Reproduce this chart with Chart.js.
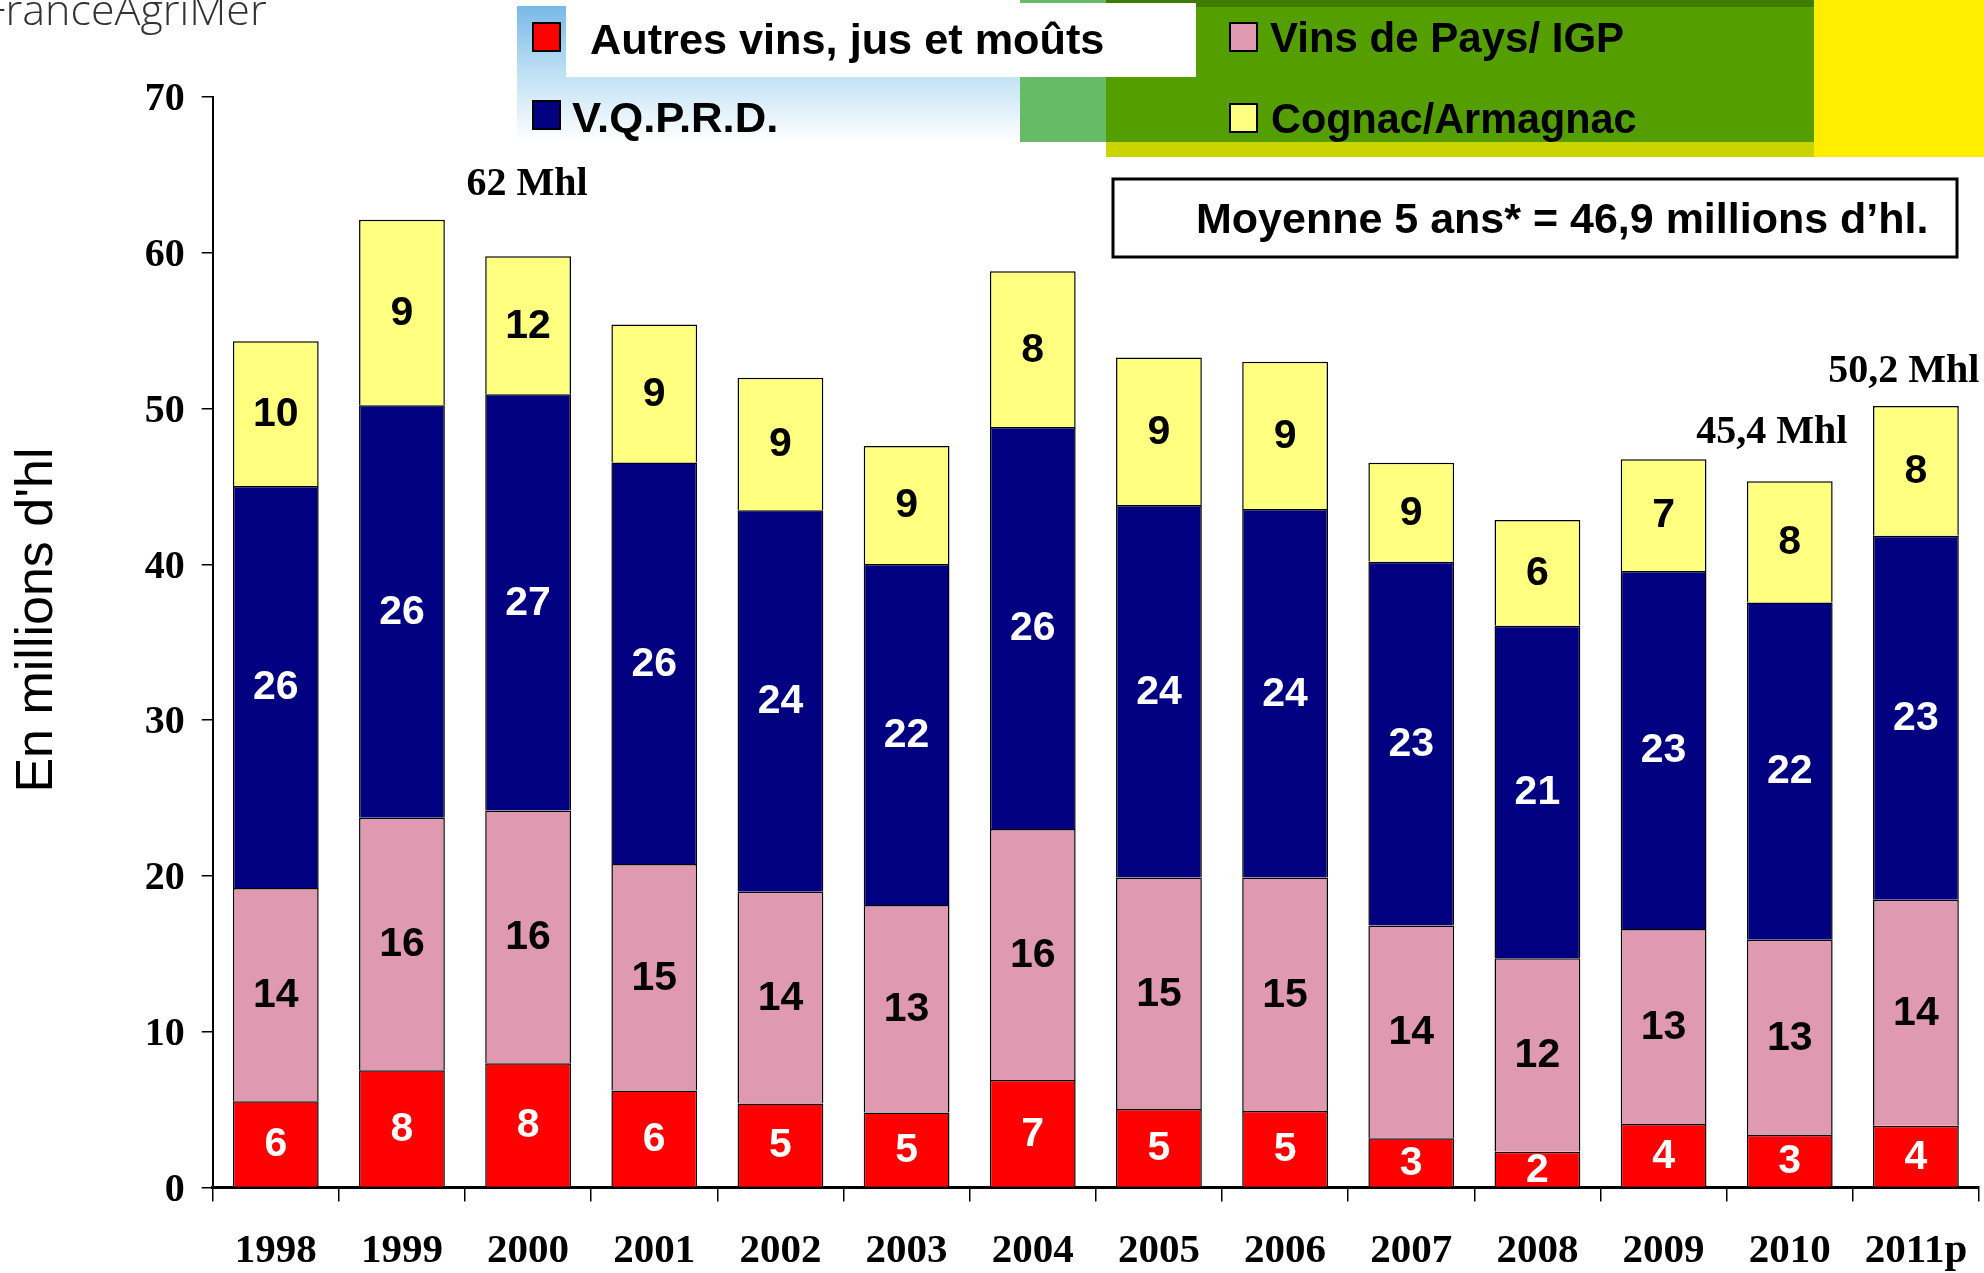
<!DOCTYPE html>
<html>
<head>
<meta charset="utf-8">
<script src="https://cdn.jsdelivr.net/npm/chart.js@4/dist/chart.umd.min.js"></script>
<style>
  html, body { margin: 0; padding: 0; background: #ffffff; }
  #wrap { position: relative; width: 1984px; height: 1273px; overflow: hidden; }
  canvas { display: block; }
</style>
</head>
<body>
<div id="wrap"><canvas id="c" width="1984" height="1273"></canvas></div>
<script>
// ---- Data (millions d'hl) ----
const years = ['1998','1999','2000','2001','2002','2003','2004','2005','2006','2007','2008','2009','2010','2011p'];
const autres   = [5.53, 7.52, 7.98, 6.22, 5.39, 4.82, 6.90, 5.04, 4.91, 3.16, 2.30, 4.08, 3.37, 3.97];
const vinsPays = [13.69, 16.22, 16.22, 14.54, 13.60, 13.32, 16.11, 14.86, 14.99, 13.66, 12.42, 12.52, 12.53, 14.50];
const vqprd    = [25.81, 26.47, 26.72, 25.78, 24.48, 21.89, 25.80, 23.91, 23.66, 23.34, 21.34, 22.97, 21.65, 23.37];
const cognac   = [9.29, 11.91, 8.86, 8.85, 8.51, 7.57, 10.00, 9.47, 9.45, 6.36, 6.79, 7.18, 7.78, 8.33];

// Value labels printed inside the segments
const autresLbl   = [6, 8, 8, 6, 5, 5, 7, 5, 5, 3, 2, 4, 3, 4];
const vinsPaysLbl = [14, 16, 16, 15, 14, 13, 16, 15, 15, 14, 12, 13, 13, 14];
const vqprdLbl    = [26, 26, 27, 26, 24, 22, 26, 24, 24, 23, 21, 23, 22, 23];
const cognacLbl   = [10, 9, 12, 9, 9, 9, 8, 9, 9, 9, 6, 7, 8, 8];

const seriesNames = ['Autres vins, jus et moûts', 'Vins de Pays/ IGP', 'V.Q.P.R.D.', 'Cognac/Armagnac'];
const yTicks = [0, 10, 20, 30, 40, 50, 60, 70];
const yTitle = "En millions d'hl";
const moyenneText = 'Moyenne 5 ans* = 46,9 millions d\u2019hl.';
const annotations = [
  { text: '62 Mhl',   cat: 2,  value: 64.4, dx: -1 },
  { text: '45,4 Mhl', cat: 12, value: 48.45, dx: -18 },
  { text: '50,2 Mhl', cat: 13, value: 52.4, dx: -12 }
];

const COLORS = { red: '#FF0000', pink: '#DF9AB1', navy: '#000080', yellow: '#FFFF80' };
const SANS = '"Liberation Sans", Arial, Helvetica, sans-serif';
const SERIF = '"Liberation Serif", "Times New Roman", serif';

function scaledText(ctx, text, x, y, sx) {
  ctx.save();
  ctx.translate(x, y);
  ctx.scale(sx, 1);
  ctx.fillText(text, 0, 0);
  ctx.restore();
}

const decorPlugin = {
  id: 'decor',
  beforeDraw(chart) {
    const ctx = chart.ctx;
    ctx.save();
    ctx.fillStyle = '#ffffff';
    ctx.fillRect(0, 0, chart.width, chart.height);

    // blue gradient panel
    let g = ctx.createLinearGradient(0, 6, 0, 142);
    g.addColorStop(0, '#78b9e6');
    g.addColorStop(0.5, '#c0e1f5');
    g.addColorStop(1, '#ffffff');
    ctx.fillStyle = g;
    ctx.fillRect(517, 6, 503, 136);
    // light green
    ctx.fillStyle = '#66BB66';
    ctx.fillRect(1020, 0, 86, 142);
    // dark green
    ctx.fillStyle = '#559E00';
    ctx.fillRect(1106, 0, 708, 142);
    ctx.fillStyle = '#3F7D00';
    ctx.fillRect(1106, 0, 708, 7);
    // yellow-green band
    ctx.fillStyle = '#C9D400';
    ctx.fillRect(1106, 142, 708, 15);
    // yellow
    ctx.fillStyle = '#FFEE00';
    ctx.fillRect(1814, 0, 170, 157);
    // white box
    ctx.fillStyle = '#ffffff';
    ctx.fillRect(566, 3, 630, 74);

    // FranceAgriMer
    ctx.fillStyle = '#333333';
    ctx.font = '300 43px "Open Sans", "DejaVu Sans", sans-serif';
    ctx.textAlign = 'left';
    ctx.textBaseline = 'alphabetic';
    ctx.fillText('FranceAgriMer', -16, 25);

    // legend
    const items = [
      { c: COLORS.red,    bx: 533, by: 23,  tx: 590, ty: 54,  t: seriesNames[0], sx: 1.03 },
      { c: COLORS.navy,   bx: 533, by: 101, tx: 572, ty: 132, t: seriesNames[2], sx: 1.04 },
      { c: COLORS.pink,   bx: 1230, by: 23, tx: 1270, ty: 52, t: seriesNames[1], sx: 1.0 },
      { c: COLORS.yellow, bx: 1230, by: 104, tx: 1271, ty: 133, t: seriesNames[3], sx: 0.985 }
    ];
    ctx.font = 'bold 42px ' + SANS;
    items.forEach(it => {
      ctx.fillStyle = it.c;
      ctx.fillRect(it.bx, it.by, 27, 28);
      ctx.strokeStyle = '#000';
      ctx.lineWidth = 2;
      ctx.strokeRect(it.bx, it.by, 27, 28);
      ctx.fillStyle = '#000';
      scaledText(ctx, it.t, it.tx, it.ty, it.sx);
    });

    // Moyenne box
    ctx.fillStyle = '#ffffff';
    ctx.fillRect(1113, 179, 844, 78);
    ctx.strokeStyle = '#000';
    ctx.lineWidth = 3;
    ctx.strokeRect(1113, 179, 844, 78);
    ctx.fillStyle = '#000';
    ctx.font = 'bold 43px ' + SANS;
    ctx.fillText(moyenneText, 1196, 233);

    // y axis title
    ctx.save();
    ctx.translate(38, 620);
    ctx.rotate(-Math.PI / 2);
    ctx.font = '52px ' + SANS;
    ctx.textAlign = 'center';
    ctx.textBaseline = 'middle';
    ctx.fillText(yTitle, 0, 0);
    ctx.restore();

    ctx.restore();
  },
  afterDatasetsDraw(chart) {
    const ctx = chart.ctx;
    const lbls = [autresLbl, vinsPaysLbl, vqprdLbl, cognacLbl];
    const colors = ['#ffffff', '#000000', '#ffffff', '#000000'];
    ctx.save();
    ctx.font = 'bold 41px ' + SANS;
    ctx.textAlign = 'center';
    ctx.textBaseline = 'middle';
    chart.data.datasets.forEach((ds, i) => {
      const meta = chart.getDatasetMeta(i);
      meta.data.forEach((el, j) => {
        ctx.fillStyle = colors[i];
        ctx.fillText(String(lbls[i][j]), el.x, (el.y + el.base) / 2 + 1);
      });
    });
    // annotations
    const xs = chart.scales.x, ys = chart.scales.y;
    ctx.fillStyle = '#000';
    ctx.font = 'bold 40px ' + SERIF;
    annotations.forEach(a => {
      ctx.fillText(a.text, xs.getPixelForValue(a.cat) + a.dx, ys.getPixelForValue(a.value));
    });
    ctx.restore();
  }
};

const commonDs = { barPercentage: 0.68, categoryPercentage: 1.0, borderColor: '#000000', borderWidth: 1.5 };

new Chart(document.getElementById('c'), {
  type: 'bar',
  data: {
    labels: years,
    datasets: [
      Object.assign({ label: seriesNames[0], data: autres,   backgroundColor: COLORS.red },    commonDs),
      Object.assign({ label: seriesNames[1], data: vinsPays, backgroundColor: COLORS.pink },   commonDs),
      Object.assign({ label: seriesNames[2], data: vqprd,    backgroundColor: COLORS.navy },   commonDs),
      Object.assign({ label: seriesNames[3], data: cognac,   backgroundColor: COLORS.yellow }, commonDs)
    ]
  },
  options: {
    responsive: false,
    animation: false,
    devicePixelRatio: 1,
    layout: { padding: { top: 97, right: 5, left: 0, bottom: 0 } },
    plugins: { legend: { display: false }, tooltip: { enabled: false }, title: { display: false } },
    scales: {
      x: {
        stacked: true,
        grid: { display: true, offset: true, drawOnChartArea: false, drawTicks: true, tickLength: 14, color: '#000', lineWidth: 1.5 },
        border: { display: true, color: '#000', width: 3 },
        ticks: { color: '#000', font: { family: SERIF, weight: 'bold', size: 41, lineHeight: 1.68 }, padding: 15, maxRotation: 0, autoSkip: false },
        afterFit(s) { s.height = 85.5; }
      },
      y: {
        stacked: true,
        min: 0, max: 70,
        afterBuildTicks(s) { s.ticks = yTicks.map(v => ({ value: v })); },
        grid: { display: true, drawOnChartArea: false, drawTicks: true, tickLength: 11, color: '#000', lineWidth: 1.5 },
        border: { display: true, color: '#000', width: 2 },
        ticks: { color: '#000', font: { family: SERIF, weight: 'bold', size: 40 }, padding: 17, labelOffset: 3 },
        afterFit(s) { s.width = 212.7; }
      }
    }
  },
  plugins: [decorPlugin]
});
</script>
</body>
</html>
